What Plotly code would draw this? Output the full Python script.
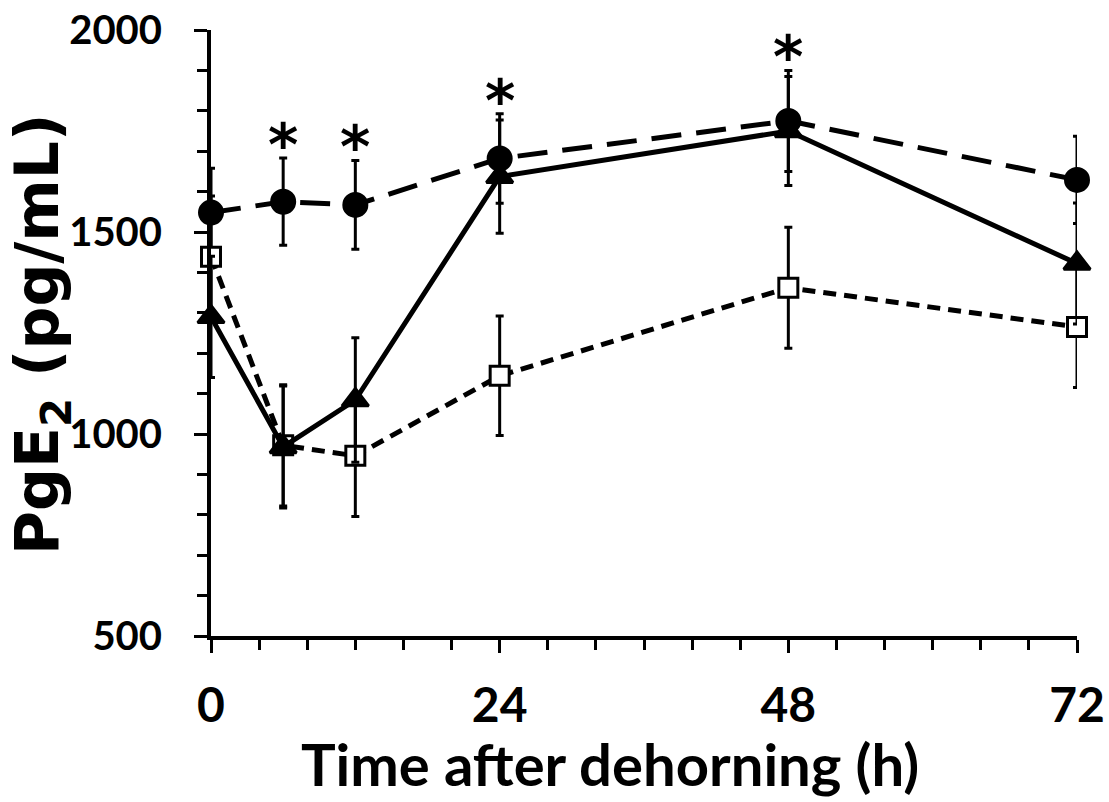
import plotly.graph_objects as go

times = [0, 6, 12, 24, 48, 72]

circle_mean = [1548, 1575, 1567, 1682, 1775, 1629]
circle_err = [110, 108, 110, 111, 125, 108]

triangle_mean = [1290, 968, 1084, 1637, 1750, 1422]
triangle_err = [150, 151, 154, 140, 135, 150]

square_mean = [1439, 972, 946, 1144, 1362, 1265]
square_err = [150, 150, 150, 148, 150, 150]

sig_times = [6, 12, 24, 48]

x_ticks = [0, 24, 48, 72]
y_ticks = [500, 1000, 1500, 2000]

fig = go.Figure()

def add_series(y, err, symbol, dash, fill, size):
    fig.add_trace(go.Scatter(
        x=times, y=y,
        mode="lines+markers",
        line=dict(color="black", width=5, dash=dash),
        marker=dict(symbol=symbol, size=size, color=fill,
                    line=dict(color="black", width=3)),
        error_y=dict(type="data", array=err, visible=True,
                     color="black", thickness=3, width=4),
        cliponaxis=False,
        showlegend=False,
    ))

add_series(circle_mean, circle_err, "circle", "30px,15px", "black", 23)
add_series(square_mean, square_err, "square", "13px,8px", "white", 19)
add_series(triangle_mean, triangle_err, "triangle-up", "solid", "black", 23)

# significance asterisks above the highest error bar at each marked time
for t in sig_times:
    i = times.index(t)
    top = max(circle_mean[i] + circle_err[i],
              triangle_mean[i] + triangle_err[i],
              square_mean[i] + square_err[i])
    fig.add_annotation(x=t, y=top, xref="x", yref="y", text="<b>*</b>",
                       showarrow=False, yanchor="bottom", yshift=-23,
                       font=dict(family="DejaVu Sans", size=58, color="black"))

fig.add_annotation(text="<b>Time after dehorning (h)</b>", xref="paper", yref="paper",
                   x=(610 - 211) / 866, y=-(764 - 636) / 606,
                   xanchor="center", yanchor="middle", showarrow=False,
                   font=dict(family="Lato", size=58, color="black"))
fig.add_annotation(text="<b>PgE<sub>2</sub> (pg/mL)</b>", xref="paper", yref="paper",
                   x=-(211 - 42) / 866, y=(636 - 335) / 606, textangle=-90,
                   xanchor="center", yanchor="middle", showarrow=False,
                   font=dict(family="DejaVu Sans", size=60, color="black"))

fig.update_xaxes(
    range=[0, 72], tickmode="array", tickvals=x_ticks,
    ticktext=[f"<b>{v}</b>" for v in x_ticks],
    ticks="outside", ticklen=13, tickwidth=3, tickcolor="black",
    showline=True, linewidth=4, linecolor="black",
    showgrid=False, zeroline=False, automargin=False,
    tickfont=dict(family="Lato", size=48, color="black"),
    ticklabelstandoff=11,
    minor=dict(dtick=4, tick0=0, ticks="outside", ticklen=10, tickwidth=3, tickcolor="black", showgrid=False),
)
fig.update_yaxes(
    range=[500, 2000], tickmode="array", tickvals=y_ticks,
    ticktext=[f"<b>{v}</b>" for v in y_ticks],
    ticks="outside", ticklen=13, tickwidth=3, tickcolor="black",
    showline=True, linewidth=4, linecolor="black",
    showgrid=False, zeroline=False, automargin=False,
    tickfont=dict(family="Lato", size=40, color="black"),
    ticklabelstandoff=24,
    minor=dict(dtick=100, tick0=500, ticks="outside", ticklen=10, tickwidth=3, tickcolor="black", showgrid=False),
)

fig.update_layout(
    width=1109, height=802,
    margin=dict(l=211, r=32, t=30, b=166),
    plot_bgcolor="white", paper_bgcolor="white",
)

fig.write_html("out.html")
